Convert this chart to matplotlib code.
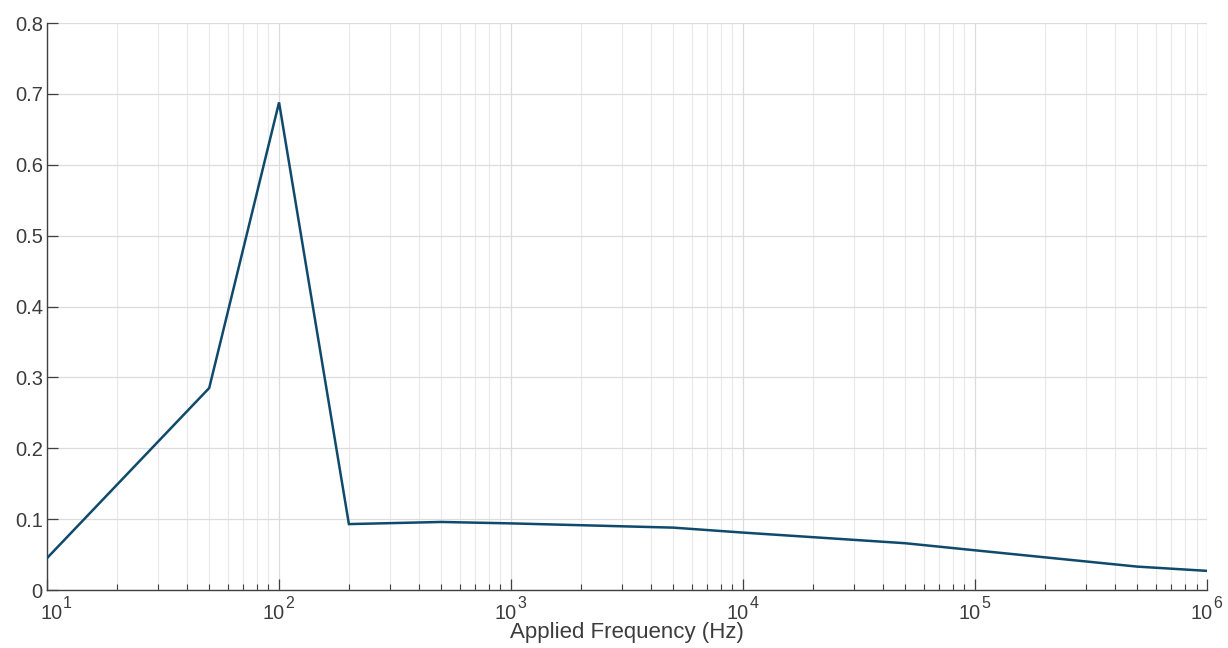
import matplotlib
matplotlib.use("Agg")
import matplotlib.pyplot as plt
from matplotlib.ticker import LogLocator, NullFormatter

# Measured response versus applied frequency
freq_hz = [10, 50, 100, 200, 500, 1e3, 5e3, 1e4, 5e4, 1e5, 5e5, 1e6]
response = [0.045, 0.285, 0.688, 0.093, 0.096, 0.094, 0.088, 0.081, 0.066, 0.056, 0.033, 0.027]

y_ticks = [0, 0.1, 0.2, 0.3, 0.4, 0.5, 0.6, 0.7, 0.8]
y_tick_labels = ["0", "0.1", "0.2", "0.3", "0.4", "0.5", "0.6", "0.7", "0.8"]
x_decades = [1, 2, 3, 4, 5, 6]
x_label = "Applied Frequency (Hz)"

plt.rcParams["font.family"] = ["Liberation Sans", "DejaVu Sans"]

axis_col = "#404040"
text_col = "#3c3c3c"

fig = plt.figure(figsize=(12.28, 6.48), dpi=100)
ax = fig.add_axes([0.0383, 0.0895, 0.9447, 0.875])

ax.plot(freq_hz, response, color="#0f4a6c", lw=1.8, solid_joinstyle="miter", zorder=3)

ax.set_xscale("log")
ax.set_xlim(10, 1e6)
ax.set_ylim(0, 0.8)
ax.set_yticks(y_ticks)
ax.set_yticklabels(y_tick_labels)
ax.xaxis.set_major_locator(LogLocator(base=10, numticks=10))
ax.xaxis.set_minor_locator(LogLocator(base=10, subs=range(2, 10), numticks=50))
ax.xaxis.set_major_formatter(NullFormatter())
ax.xaxis.set_minor_formatter(NullFormatter())

ax.grid(True, which="major", color="#dcdcdc", lw=0.9)
ax.grid(True, which="minor", axis="x", color="#e9e9e9", lw=0.8)
ax.set_axisbelow(True)

for side in ("top", "right"):
    ax.spines[side].set_visible(False)
for side in ("left", "bottom"):
    ax.spines[side].set_color(axis_col)
    ax.spines[side].set_linewidth(1.0)

ax.tick_params(axis="both", which="major", direction="in", length=8, width=0.9,
               color=axis_col, labelcolor=text_col, labelsize=14.5)
ax.tick_params(axis="x", which="minor", direction="in", length=4, width=0.8, color=axis_col)
ax.tick_params(axis="y", which="major", pad=3)

# Decade labels written as base with a raised exponent; the first one is
# nudged right so it clears the "0" of the y axis
for i, d in enumerate(x_decades):
    shift = 7.0 if i == 0 else 0.0
    ax.annotate("10", xy=(10.0 ** d, 0), xycoords=("data", "axes fraction"),
                xytext=(4.3 + shift, -10), textcoords="offset points",
                ha="right", va="top", fontsize=14.3, color=text_col)
    ax.annotate(str(d), xy=(10.0 ** d, 0), xycoords=("data", "axes fraction"),
                xytext=(4.5 + shift, -4.5), textcoords="offset points",
                ha="left", va="top", fontsize=11.5, color=text_col)

ax.set_xlabel(x_label, fontsize=16, color=text_col)
ax.xaxis.set_label_coords(0.5, -0.056)
ax.xaxis.label.set_va("top")

fig.savefig("out.png", dpi=100, facecolor="white")
